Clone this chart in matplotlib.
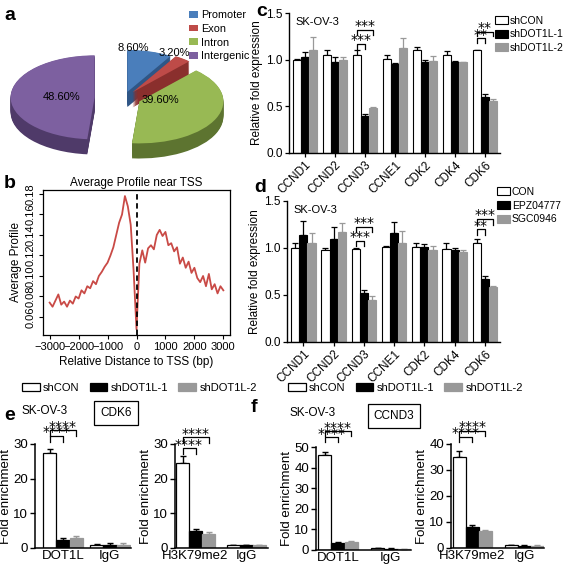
import numpy as np
import matplotlib
matplotlib.use("Agg")
import matplotlib.pyplot as plt
from matplotlib.patches import Patch

plt.rcParams['font.family'] = ['Liberation Sans', 'DejaVu Sans']

# ---------------- data ----------------
pie_labels = ["Promoter", "Exon", "Intron", "Intergenic"]
pie_values = [8.6, 3.2, 39.6, 48.6]
pie_colors = ["#4a7ebb", "#be4b48", "#98b954", "#7d60a0"]
pie_side_colors = ["#2f5686", "#8a2f2d", "#5d7430", "#4f3a69"]

tss_pos = list(range(-3000, 3001, 100))
tss_profile = [0.074, 0.070, 0.076, 0.082, 0.072, 0.075, 0.070, 0.076, 0.073, 0.080,
               0.078, 0.086, 0.083, 0.090, 0.088, 0.095, 0.092, 0.100, 0.104, 0.109,
               0.113, 0.120, 0.128, 0.140, 0.152, 0.160, 0.178, 0.168, 0.150, 0.105,
               0.048, 0.112, 0.125, 0.113, 0.127, 0.130, 0.126, 0.140, 0.145, 0.139,
               0.143, 0.130, 0.132, 0.124, 0.128, 0.112, 0.118, 0.108, 0.114, 0.103,
               0.108, 0.098, 0.094, 0.100, 0.090, 0.102, 0.087, 0.092, 0.083, 0.090,
               0.086]

genes = ["CCND1", "CCND2", "CCND3", "CCNE1", "CDK2", "CDK4", "CDK6"]
c_series = ["shCON", "shDOT1L-1", "shDOT1L-2"]
c_shCON = [1.00, 1.05, 1.05, 1.005, 1.10, 1.05, 1.10]
c_shCON_err = [0.01, 0.05, 0.05, 0.04, 0.04, 0.04, 0.005]
c_sh1 = [1.03, 0.98, 0.40, 0.955, 0.98, 0.97, 0.60]
c_sh1_err = [0.05, 0.05, 0.015, 0.005, 0.015, 0.02, 0.03]
c_sh2 = [1.10, 1.00, 0.486, 1.125, 0.99, 0.97, 0.556]
c_sh2_err = [0.14, 0.03, 0.01, 0.106, 0.05, 0.01, 0.02]

d_series = ["CON", "EPZ04777", "SGC0946"]
d_con = [1.00, 0.98, 0.985, 1.01, 1.015, 0.99, 1.057]
d_con_err = [0.05, 0.015, 0.02, 0.01, 0.035, 0.06, 0.035]
d_epz = [1.135, 1.10, 0.52, 1.156, 1.007, 0.98, 0.67]
d_epz_err = [0.15, 0.12, 0.03, 0.12, 0.035, 0.02, 0.035]
d_sgc = [1.057, 1.17, 0.45, 1.057, 0.98, 0.96, 0.59]
d_sgc_err = [0.10, 0.10, 0.035, 0.12, 0.04, 0.02, 0.007]

chip_series = ["shCON", "shDOT1L-1", "shDOT1L-2"]
e1_groups = ["DOT1L", "IgG"]
e1_vals = [[27.5, 1.0], [2.2, 0.9], [2.8, 1.0]]
e1_err = [[1.0, 0.1], [0.6, 0.4], [0.6, 0.3]]
e2_groups = ["H3K79me2", "IgG"]
e2_vals = [[24.6, 0.9], [5.0, 0.8], [3.9, 0.8]]
e2_err = [[1.8, 0.1], [0.5, 0.2], [0.7, 0.2]]
f1_groups = ["DOT1L", "IgG"]
f1_vals = [[46.3, 1.0], [3.5, 0.7], [3.8, 0.3]]
f1_err = [[1.3, 0.1], [0.5, 0.5], [0.5, 0.2]]
f2_groups = ["H3K79me2", "IgG"]
f2_vals = [[34.9, 1.0], [8.1, 0.7], [6.4, 0.8]]
f2_err = [[2.4, 0.1], [0.6, 0.3], [0.6, 0.3]]

# ---------------- figure ----------------
W = 567
fig = plt.figure(figsize=(5.67, 5.67), dpi=100)


def ax_px(l, t, r, b):
    return fig.add_axes([l / W, 1 - b / W, (r - l) / W, (b - t) / W])


def ftext(x, y, s, **kw):
    fig.text(x / W, 1 - y / W, s, **kw)


bar_face = ["white", "black", "#999999"]
bar_edge = ["black", "black", "#999999"]
STAR_FONT = ['DejaVu Sans']

# ---------------- panel a : pie ----------------
axa = ax_px(10, 30, 262, 152)
explode = [0.15, 0.17, 0.2, 0.35]
depths = np.linspace(-0.36, -0.01, 16)
for d in depths:
    axa.pie(pie_values, colors=pie_side_colors, explode=explode, startangle=90,
            counterclock=False, center=(0, d), wedgeprops=dict(linewidth=0))
wedges, _ = axa.pie(pie_values, colors=pie_colors, explode=explode, startangle=90,
                    counterclock=False, center=(0, 0), wedgeprops=dict(linewidth=0))
axa.set_aspect('auto')
cx, sx, cy, sy = 124, 84, 98, 42
axa.set_xlim((10 - cx) / sx, (262 - cx) / sx)
axa.set_ylim((cy - 152) / sy, (cy - 30) / sy)
axa.axis('off')
pct_pos = [(133, 48), (174, 53), (160, 100), (62, 97)]
for v, (px, py) in zip(pie_values, pct_pos):
    ftext(px, py, f"{v:.2f}%", fontsize=8, ha='center', va='center')
fig.legend(wedges, pie_labels, loc='upper left', bbox_to_anchor=(189 / W, 1 - 10 / W),
           frameon=False, fontsize=7.8, handlelength=0.8, handleheight=0.6,
           labelspacing=0.35, handletextpad=0.3, borderaxespad=0, borderpad=0)
ftext(4, 16, "a", fontsize=14, fontweight='bold', va='center')

# ---------------- panel b : TSS profile ----------------
axb = ax_px(43, 190, 230, 335)
axb.plot(tss_pos, tss_profile, color="#c94a46", lw=1.3)
axb.axvline(0, color='black', ls=(0, (3, 2)), lw=1.3)
axb.set_xlim(-3230, 3230)
axb.set_ylim(0.0424, 0.1839)
axb.set_xticks(range(-3000, 3001, 1000))
axb.set_yticks([0.06, 0.08, 0.10, 0.12, 0.14, 0.16, 0.18])
axb.set_yticklabels(["0.06", "0.08", "0.10", "0.12", "0.14", "0.16", "0.18"], rotation=90, va='center')
axb.tick_params(labelsize=8, length=3, width=0.8, pad=2)
for s in axb.spines.values():
    s.set_linewidth(0.9)
axb.set_title("Average Profile near TSS", fontsize=8.5, pad=3)
axb.set_xlabel("Relative Distance to TSS (bp)", fontsize=8.5, labelpad=3)
axb.set_ylabel("Average Profile", fontsize=8.5, labelpad=3)
ftext(4, 183, "b", fontsize=14, fontweight='bold', va='center')


# ---------------- panels c, d ----------------
def bracket(ax, x1, x2, y, h, text, fs=10):
    ax.plot([x1, x1, x2, x2], [y - h, y, y, y - h], color='black', lw=0.9, clip_on=False)
    ax.annotate(text, ((x1 + x2) / 2, y), xytext=(0, -0.3), textcoords='offset points',
                ha='center', va='baseline', fontsize=fs, family=STAR_FONT, annotation_clip=False)


def expr_panel(ax, vals, errs, labels):
    bw = 0.27
    x = np.arange(len(genes))
    for s in range(3):
        xs = x + (s - 1) * bw
        ax.bar(xs, vals[s], width=bw, color=bar_face[s], edgecolor=bar_edge[s], linewidth=0.8,
               label=labels[s], zorder=2)
        ax.errorbar(xs, vals[s], yerr=[np.zeros(len(genes)), errs[s]], fmt='none',
                    ecolor=bar_edge[s], elinewidth=0.9, capsize=2, capthick=0.9, zorder=1)
    ax.set_xlim(-0.54, 6.5)
    ax.set_ylim(0, 1.5)
    ax.set_yticks([0, 0.5, 1.0, 1.5])
    ax.set_yticklabels(["0.0", "0.5", "1.0", "1.5"])
    ax.set_xticks(x)
    ax.set_xticklabels(genes, rotation=45, ha='right', rotation_mode='anchor')
    for sp in ['top', 'right']:
        ax.spines[sp].set_visible(False)
    for sp in ['left', 'bottom']:
        ax.spines[sp].set_linewidth(1.0)
    ax.tick_params(labelsize=8.5, length=3, width=0.9, pad=1.5)
    ax.set_ylabel("Relative fold expression", fontsize=8.5, labelpad=2)
    ax.text(0.03, 0.97, "SK-OV-3", transform=ax.transAxes, fontsize=8, va='top', ha='left')
    return bw


leg_kw = dict(loc='upper left', frameon=False, fontsize=7.5, handlelength=1.3, handleheight=0.8,
              labelspacing=0.35, handletextpad=0.15, borderaxespad=0, borderpad=0)

axc = ax_px(289, 13, 500, 153)
bw = expr_panel(axc, [c_shCON, c_sh1, c_sh2], [c_shCON_err, c_sh1_err, c_sh2_err], c_series)
bracket(axc, 2 - bw, 2 + bw, 1.32, 0.06, "***")
bracket(axc, 2 - bw, 2, 1.17, 0.06, "***")
bracket(axc, 6 - bw, 6 + bw, 1.30, 0.05, "**")
bracket(axc, 6 - bw, 6, 1.23, 0.05, "**")
axc.legend(bbox_to_anchor=(0.975, 0.98), **leg_kw)
ftext(256, 12, "c", fontsize=14, fontweight='bold', va='center')

axd = ax_px(287, 201, 500, 342)
expr_panel(axd, [d_con, d_epz, d_sgc], [d_con_err, d_epz_err, d_sgc_err], d_series)
bracket(axd, 2 - bw, 2 + bw, 1.227, 0.06, "***")
bracket(axd, 2 - bw, 2, 1.078, 0.06, "***")
bracket(axd, 6 - bw, 6 + bw, 1.31, 0.06, "***")
bracket(axd, 6 - bw, 6, 1.20, 0.06, "**")
axd.legend(bbox_to_anchor=(0.985, 1.10), **leg_kw)
ftext(254, 187, "d", fontsize=14, fontweight='bold', va='center')


# ---------------- panels e, f ----------------
def chip_panel(l, t, r, b, first_left, bwp, G, groups, vals, errs, ymax, ystep,
               outer_y, inner_y, leg):
    ax = ax_px(l, t, r, b)
    for s in range(3):
        xs = np.arange(len(groups)) * G + s
        ax.bar(xs, vals[s], width=1.0, color=bar_face[s], edgecolor=bar_edge[s], linewidth=0.9,
               zorder=2)
        ax.errorbar(xs, vals[s], yerr=[np.zeros(len(groups)), errs[s]], fmt='none',
                    ecolor=bar_edge[s], elinewidth=1.0, capsize=2.5, capthick=1.0, zorder=1)
    ax.set_xlim((l - first_left) / bwp - 0.5, (r - first_left) / bwp - 0.5)
    ax.set_ylim(0, ymax)
    ax.set_yticks(np.arange(0, ymax + 0.1, ystep))
    ax.set_xticks(np.arange(len(groups)) * G + 1)
    ax.set_xticklabels(groups)
    ax.tick_params(labelsize=9.5, width=1.0, length=3.5, pad=1.5)
    ax.tick_params(axis='x', length=0, pad=1.5)
    for sp in ['top', 'right']:
        ax.spines[sp].set_visible(False)
    for sp in ['left', 'bottom']:
        ax.spines[sp].set_linewidth(1.1)
    ax.set_ylabel("Fold enrichment", fontsize=9.5, labelpad=1)
    bracket(ax, 0, 2, outer_y, leg, "****", fs=10)
    bracket(ax, 0, 1, inner_y, leg, "****", fs=10)
    return ax


chip_panel(35, 444, 131, 548, 43, 13.3, 3.53, e1_groups, e1_vals, e1_err, 30, 10, 34.0, 32.3, 1.6)
chip_panel(175, 444, 268, 548, 176, 13.0, 3.92, e2_groups, e2_vals, e2_err, 30, 10, 31.9, 28.8, 1.6)
chip_panel(316, 447, 411, 550, 318, 13.3, 3.98, f1_groups, f1_vals, f1_err, 50, 10, 57.7, 54.8, 2.6)
chip_panel(451, 444, 544, 548, 453, 12.9, 4.03, f2_groups, f2_vals, f2_err, 40, 10, 45.1, 42.8, 2.0)

handles = [Patch(facecolor=bar_face[i], edgecolor=bar_edge[i] if i else 'black', linewidth=0.9)
           for i in range(3)]
for x0 in (22, 288):
    fig.legend(handles, chip_series, loc='upper left', bbox_to_anchor=(x0 / W, 1 - 383 / W),
               ncol=3, frameon=False, fontsize=8, handlelength=1.6, handleheight=0.7,
               columnspacing=0.9, handletextpad=0.3, borderaxespad=0, borderpad=0)

ftext(4, 415, "e", fontsize=14, fontweight='bold', va='center')
ftext(251, 408, "f", fontsize=14, fontweight='bold', va='center')
ftext(22, 411, "SK-OV-3", fontsize=8.5, va='center')
ftext(289, 413, "SK-OV-3", fontsize=8.5, va='center')
ftext(116, 413, "CDK6", fontsize=8.5, ha='center', va='center',
      bbox=dict(boxstyle='square,pad=0.5', fc='white', ec='black', lw=0.9))
ftext(394, 416, "CCND3", fontsize=8.5, ha='center', va='center',
      bbox=dict(boxstyle='square,pad=0.5', fc='white', ec='black', lw=0.9))

fig.savefig("out.png", dpi=100)
